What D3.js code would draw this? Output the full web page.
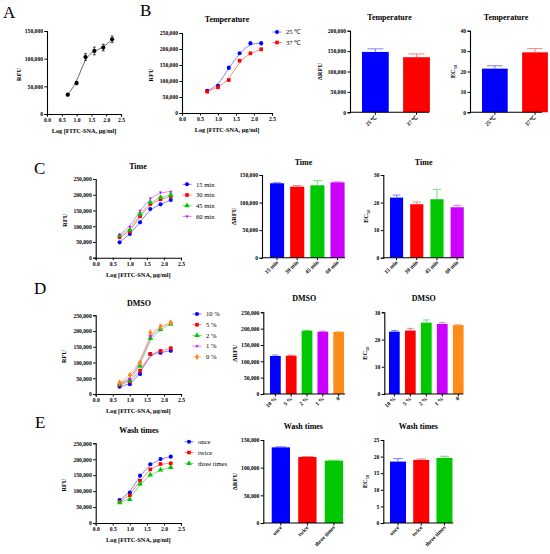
<!DOCTYPE html>
<html><head><meta charset="utf-8">
<script src="https://cdn.jsdelivr.net/npm/d3@7"></script>
<style>
body{margin:0;background:#fff;}
svg{display:block;font-family:"Liberation Serif","Times New Roman",serif;}
.tick text{font-family:"Liberation Serif",serif;font-weight:bold;}
</style></head>
<body><svg id="c" width="550" height="554"></svg>
<script>
// ---------- data ----------
const xLog = [0.7, 1.0, 1.3, 1.6, 1.9, 2.2];
const xTicks = [0, 0.5, 1.0, 1.5, 2.0, 2.5];

const aMean = [35000, 56000, 103000, 114000, 120000, 135000];
const aErr  = [2000, 3000, 6000, 7000, 6000, 6000];

const tempNames = ["25 ℃", "37 ℃"];
const b25 = [69700, 85300, 141500, 186500, 217800, 217800];
const b25Err = [2000, 3000, 5000, 3000, 4000, 5000];
const b37 = [66600, 80300, 103000, 163400, 186500, 199000];
const b37Err = [2000, 3000, 3000, 3000, 3000, 4000];
const tempDRFU = [148000, 135000];
const tempDRFUErr = [7500, 8000];
const tempEC50 = [21.4, 29.4];
const tempEC50Err = [1.4, 1.8];

const timeNames = ["15 min", "30 min", "45 min", "60 min"];
const c15 = [48700, 75200, 112300, 154700, 169500, 183300];
const c30 = [64600, 82600, 131400, 170500, 185400, 193900];
const c45 = [69900, 87900, 138800, 175800, 191700, 199200];
const c60 = [73100, 98500, 149400, 188600, 207600, 209700];
const cErr = [2000, 2000, 4000, 3000, 3000, 6000];
const timeDRFU = [135000, 128800, 131300, 136700];
const timeDRFUErr = [1000, 2000, 8400, 1000];
const timeEC50 = [21.8, 19.4, 21.2, 18.3];
const timeEC50Err = [0.9, 0.8, 3.6, 0.7];

const dmsoNames = ["10 %", "5 %", "2 %", "1 %", "0 %"];
const dmsoBarNames = ["10 %", "5 %", "2 %", "1 %", "0"];
const d10 = [23300, 30700, 63600, 127100, 131400, 137700];
const d5  = [28600, 39200, 74100, 127100, 136600, 145100];
const d2  = [31800, 42400, 89000, 176900, 205500, 222500];
const d1  = [33900, 47700, 97500, 184300, 214000, 226700];
const d0  = [36000, 60400, 99600, 194900, 214000, 226700];
const dErr = [2000, 2000, 3000, 3000, 4000, 4000];
const dmsoDRFU = [116300, 117200, 193700, 190600, 189700];
const dmsoDRFUErr = [3000, 1500, 1500, 1500, 1000];
const dmsoEC50 = [22.9, 23.3, 26.2, 25.7, 25.3];
const dmsoEC50Err = [0.4, 0.8, 1.0, 0.6, 0.2];

const washNames = ["once", "twice", "three times"];
const eOnce  = [72200, 95200, 148500, 184100, 200800, 208200];
const eTwice = [65900, 86800, 132800, 168400, 185100, 187200];
const eThree = [63800, 74300, 122400, 150600, 166300, 174700];
const eErr = [2000, 2000, 3000, 2000, 2000, 2000];
const washDRFU = [136700, 119300, 112700];
const washDRFUErr = [1000, 800, 800];
const washEC50 = [18.5, 19.0, 19.6];
const washEC50Err = [0.9, 0.3, 0.5];

// ---------- styles ----------
const COL = ["#0000FF", "#FF0000", "#00C800", "#CC00FF", "#FF8C1A"];
const LIGHT = ["#6F6FFF", "#FF7070", "#66D966", "#DD70FF", "#FFB366"];
const downTri = {draw(ctx, size){ const s=Math.sqrt(size/(3*Math.sqrt(3)/4)); const h=s*Math.sqrt(3)/2;
  ctx.moveTo(0, h*2/3); ctx.lineTo(s/2, -h/3); ctx.lineTo(-s/2, -h/3); ctx.closePath(); }};
const SYM = [d3.symbolCircle, d3.symbolSquare, d3.symbolTriangle, downTri, d3.symbolDiamond];

const svg = d3.select("#c");
const TICKFS = 5.6;

function styleAxis(g){
  g.select(".domain").attr("stroke","#000").attr("stroke-width",1.1);
  g.selectAll(".tick line").attr("stroke","#000").attr("stroke-width",1);
  g.selectAll(".tick text").attr("font-size",TICKFS).attr("fill","#000");
}

function letter(t, x, y){
  svg.append("text").attr("x",x).attr("y",y).attr("font-size",17).text(t);
}
function title(t, x, y){
  svg.append("text").attr("x",x).attr("y",y).attr("text-anchor","middle")
    .attr("font-size",8).attr("font-weight","bold").text(t);
}
function yLabel(x, y, kind){
  const t = svg.append("text").attr("transform",`translate(${x},${y}) rotate(-90)`)
    .attr("text-anchor","middle").attr("font-size",6.5).attr("font-weight","bold");
  if(kind==="EC50"){ t.text("EC"); t.append("tspan").attr("font-size",4.5).attr("dy",1.5).text("50"); }
  else t.text(kind);
}

function linePanel(cfg, series){
  const x = d3.scaleLinear().domain([0,2.5]).range([cfg.x0,cfg.x1]);
  const y = d3.scaleLinear().domain([0,cfg.ymax]).range([cfg.y0,cfg.yT]);
  const gx = svg.append("g").attr("transform",`translate(0,${cfg.y0})`)
    .call(d3.axisBottom(x).tickValues(xTicks).tickFormat(d3.format(".1f")).tickSize(2.5).tickPadding(1.5));
  styleAxis(gx);
  const gy = svg.append("g").attr("transform",`translate(${cfg.x0},0)`)
    .call(d3.axisLeft(y).tickValues(d3.range(0,cfg.ymax+1,cfg.step)).tickFormat(d3.format(",")).tickSize(2.5).tickPadding(1.5));
  styleAxis(gy);
  svg.append("text").attr("x",(cfg.x0+cfg.x1)/2).attr("y",cfg.y0+19).attr("text-anchor","middle")
    .attr("font-size",6.3).attr("font-weight","bold").text("Log [FITC-SNA, μg/ml]");
  yLabel(cfg.ylx, (cfg.y0+cfg.yT)/2+2, "RFU");
  if(cfg.title) title(cfg.title, cfg.tx, cfg.ty);
  const line = d3.line().x((d,i)=>x(xLog[i])).y(d=>y(d)).curve(d3.curveBasis);
  series.forEach((s,k)=>{
    svg.append("path").attr("d",line(s.values)).attr("fill","none")
      .attr("stroke",s.light).attr("stroke-width",0.9);
  });
  series.forEach((s,k)=>{
    const g = svg.append("g");
    s.values.forEach((v,i)=>{
      const e = s.err ? s.err[i] : 0;
      if(e>0){
        const cx=x(xLog[i]);
        g.append("path").attr("d",`M${cx},${y(v-e)}V${y(v+e)}M${cx-1.5},${y(v+e)}H${cx+1.5}M${cx-1.5},${y(v-e)}H${cx+1.5}`)
          .attr("stroke",s.color).attr("stroke-width",0.7).attr("fill","none");
      }
      g.append("path").attr("d",d3.symbol(s.sym, s.size||13)()).attr("fill",s.color)
        .attr("transform",`translate(${x(xLog[i])},${y(v)})`);
    });
  });
  if(cfg.legend){
    series.forEach((s,k)=>{
      const ly = cfg.ly + k*cfg.ldy;
      svg.append("line").attr("x1",cfg.lx-4.5).attr("x2",cfg.lx+4.5).attr("y1",ly).attr("y2",ly)
        .attr("stroke",s.light).attr("stroke-width",0.9);
      svg.append("path").attr("d",d3.symbol(s.sym,13)()).attr("fill",s.color)
        .attr("transform",`translate(${cfg.lx},${ly})`);
      svg.append("text").attr("x",cfg.lx+9).attr("y",ly+2.2).attr("font-size",6.6).text(s.name);
    });
  }
}

function barPanel(cfg, cats, vals, errs){
  const y = d3.scaleLinear().domain([0,cfg.ymax]).range([cfg.y0,cfg.yT]);
  const n = cats.length;
  const step = (cfg.b1-cfg.b0)/(n-cfg.pi);
  const x = d3.scaleBand().domain(cats).range([cfg.b0, cfg.b0+step*n]).paddingInner(cfg.pi).paddingOuter(0).align(0);
  const bw = x.bandwidth();
  cats.forEach((c,i)=>{
    const v = vals[i], e = errs[i];
    const cx = x(c)+bw/2;
    svg.append("line").attr("x1",cx).attr("x2",cx).attr("y1",y(v)).attr("y2",y(v+e))
      .attr("stroke",LIGHT[i]).attr("stroke-width",0.9);
    svg.append("line").attr("x1",cx-bw*0.3).attr("x2",cx+bw*0.3).attr("y1",y(v+e)).attr("y2",y(v+e))
      .attr("stroke",LIGHT[i]).attr("stroke-width",0.9);
    svg.append("rect").attr("x",x(c)).attr("y",y(v)).attr("width",bw).attr("height",cfg.y0-y(v))
      .attr("fill",COL[i]);
  });
  svg.append("line").attr("x1",cfg.ax).attr("x2",cfg.ae).attr("y1",cfg.y0).attr("y2",cfg.y0)
    .attr("stroke","#000").attr("stroke-width",1.1);
  cats.forEach((c,i)=>{
    const cx = x(c)+bw/2;
    svg.append("line").attr("x1",cx).attr("x2",cx).attr("y1",cfg.y0).attr("y2",cfg.y0+2.5)
      .attr("stroke","#000").attr("stroke-width",1);
    svg.append("text").attr("transform",`translate(${cx+1.5},${cfg.y0+5}) rotate(-45)`)
      .attr("text-anchor","end").attr("font-size",TICKFS).attr("font-weight","bold").text(c);
  });
  const gy = svg.append("g").attr("transform",`translate(${cfg.ax},0)`)
    .call(d3.axisLeft(y).tickValues(d3.range(0,cfg.ymax+1e-9,cfg.step)).tickFormat(d3.format(",")).tickSize(2.5).tickPadding(1.5));
  styleAxis(gy);
  title(cfg.title, (cfg.ax+cfg.ae)/2, cfg.ty);
  yLabel(cfg.ylx, (cfg.y0+cfg.yT)/2, cfg.ylab);
}

// ---------- letters ----------
letter("A", 3, 18);
letter("B", 140, 16);
letter("C", 34, 174);
letter("D", 34, 294);
letter("E", 35, 428);

// ---------- A ----------
linePanel({x0:47,x1:121,y0:114,yT:31,ymax:150000,step:50000,ylx:21},
  [{name:"",values:aMean,err:aErr,color:"#000",light:"#555",sym:d3.symbolCircle,size:14}]);

// ---------- B ----------
linePanel({x0:182,x1:272,y0:113,yT:33,ymax:250000,step:50000,ylx:153,title:"Temperature",tx:227,ty:22,
  legend:true,lx:277,ly:32,ldy:10.5},
  [{name:tempNames[0],values:b25,err:b25Err,color:COL[0],light:LIGHT[0],sym:SYM[0]},
   {name:tempNames[1],values:b37,err:b37Err,color:COL[1],light:LIGHT[1],sym:SYM[1]}]);
barPanel({ax:350,ae:429,y0:112.3,yT:30.7,ymax:200000,step:50000,b0:362,b1:418,pi:0.35,title:"Temperature",ty:20,ylx:322,ylab:"ΔRFU"},
  tempNames, tempDRFU, tempDRFUErr);
barPanel({ax:470,ae:542,y0:112.3,yT:30.7,ymax:40,step:10,b0:482,b1:536,pi:0.36,title:"Temperature",ty:20,ylx:455,ylab:"EC50"},
  tempNames, tempEC50, tempEC50Err);

// ---------- C ----------
linePanel({x0:95.7,x1:181,y0:257.7,yT:179,ymax:250000,step:50000,ylx:67,title:"Time",tx:138,ty:169,
  legend:true,lx:187,ly:184.3,ldy:10.7},
  [c15,c30,c45,c60].map((v,k)=>({name:timeNames[k],values:v,err:k===2?cErr:null,color:COL[k],light:LIGHT[k],sym:SYM[k]})));
barPanel({ax:262,ae:345,y0:257.7,yT:175,ymax:150000,step:50000,b0:270,b1:339,pi:0.30,title:"Time",ty:165,ylx:236,ylab:"ΔRFU"},
  timeNames, timeDRFU, timeDRFUErr);
barPanel({ax:383.3,ae:464,y0:257.7,yT:175,ymax:30,step:10,b0:390,b1:457.3,pi:0.35,title:"Time",ty:165,ylx:368,ylab:"EC50"},
  timeNames, timeEC50, timeEC50Err);

// ---------- D ----------
linePanel({x0:95.7,x1:181,y0:394,yT:315.3,ymax:250000,step:50000,ylx:66,title:"DMSO",tx:139,ty:306,
  legend:true,lx:197,ly:314,ldy:10.75},
  [d10,d5,d2,d1,d0].map((v,k)=>({name:dmsoNames[k],values:v,err:dErr,color:COL[k],light:LIGHT[k],sym:SYM[k]})));
barPanel({ax:263.3,ae:345,y0:394,yT:312.3,ymax:250000,step:50000,b0:270,b1:339.3,pi:0.32,title:"DMSO",ty:301,ylx:237,ylab:"ΔRFU"},
  dmsoBarNames, dmsoDRFU, dmsoDRFUErr);
barPanel({ax:384.3,ae:463.3,y0:394,yT:312.3,ymax:30,step:10,b0:389,b1:458.7,pi:0.33,title:"DMSO",ty:301,ylx:367,ylab:"EC50"},
  dmsoBarNames, dmsoEC50, dmsoEC50Err);

// ---------- E ----------
linePanel({x0:95.7,x1:181,y0:523,yT:443.3,ymax:250000,step:50000,ylx:66,title:"Wash times",tx:139,ty:433,
  legend:true,lx:189,ly:441.7,ldy:10.8},
  [eOnce,eTwice,eThree].map((v,k)=>({name:washNames[k],values:v,err:eErr,color:COL[k],light:LIGHT[k],sym:SYM[k]})));
barPanel({ax:263.3,ae:343.3,y0:523,yT:440,ymax:150000,step:50000,b0:271.7,b1:335.7,pi:0.31,title:"Wash times",ty:429,ylx:237,ylab:"ΔRFU"},
  washNames, washDRFU, washDRFUErr);
barPanel({ax:383.3,ae:453.3,y0:523,yT:440,ymax:25,step:5,b0:390,b1:446,pi:0.31,title:"Wash times",ty:429,ylx:367,ylab:"EC50"},
  washNames, washEC50, washEC50Err);
</script>
</body></html>
